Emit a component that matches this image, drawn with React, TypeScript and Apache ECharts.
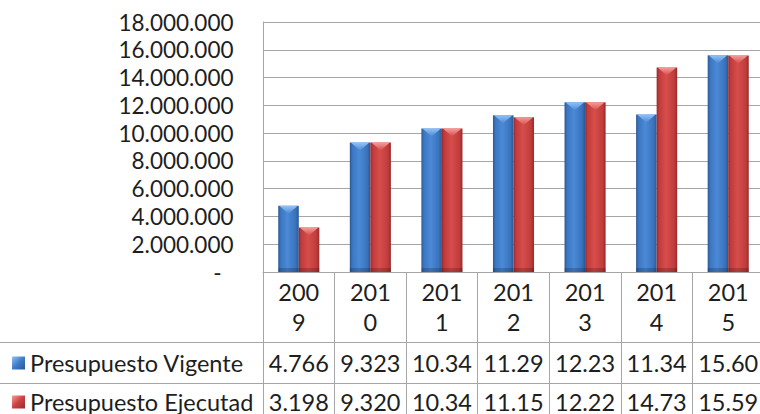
import React, { useEffect, useRef } from "react";
import * as echarts from "echarts";

const categories = ["2009", "2010", "2011", "2012", "2013", "2014", "2015"];
const vigente = [4766000, 9323000, 10340000, 11290000, 12230000, 11340000, 15600000];
const ejecutado = [3198000, 9320000, 10340000, 11150000, 12220000, 14730000, 15590000];
const seriesNames = ["Presupuesto Vigente", "Presupuesto Ejecutad"];
const yMin = 0;
const yMax = 18000000;
const yInterval = 2000000;

const FONT = "Lato";
const TEXT = "#1e1e1e";
const LINE = "#a6a6a6";
const TABLE_FS = 23.5;

const fmt = (v: number) =>
  Math.round(v)
    .toString()
    .replace(/\B(?=(\d{3})+(?!\d))/g, ".");
const cell = (v: number) => fmt(v).slice(0, 5);

const palettes = [
  {
    edge: "#2a5895",
    body1: "#3b76c2",
    body2: "#4b8ad6",
    body3: "#3a72bc",
    top: "#93c3f4",
    legend: "#3f7cc8",
  },
  {
    edge: "#992a2a",
    body1: "#c13b3b",
    body2: "#d64d4b",
    body3: "#c03d3c",
    top: "#f59d99",
    legend: "#cc4242",
  },
];

function makeRender(sIdx: number) {
  const p = palettes[sIdx];
  return (params: any, api: any) => {
    const idx = api.value(0);
    const val = api.value(1);
    const top = api.coord([idx, val]);
    const base = api.coord([idx, 0]);
    const band = api.size([1, 0])[0];
    const bw = band * 0.287;
    const x0 = sIdx === 0 ? top[0] - bw : top[0];
    const y = top[1];
    const h = base[1] - top[1];
    const tri = Math.min(8, h);
    return {
      type: "group",
      children: [
        {
          type: "rect",
          shape: { x: x0, y, width: bw, height: h },
          style: {
            fill: new echarts.graphic.LinearGradient(0, 0, 1, 0, [
              { offset: 0, color: p.edge },
              { offset: 0.12, color: p.body1 },
              { offset: 0.45, color: p.body2 },
              { offset: 0.85, color: p.body3 },
              { offset: 1, color: p.edge },
            ]),
          },
        },
        {
          type: "polygon",
          shape: {
            points: [
              [x0 + 1, y],
              [x0 + bw - 1, y],
              [x0 + bw / 2, y + tri],
            ],
          },
          style: {
            fill: new echarts.graphic.LinearGradient(0, 0, 0, 1, [
              { offset: 0, color: p.top },
              { offset: 1, color: p.body2 },
            ]),
          },
        },
        {
          type: "rect",
          shape: { x: x0, y: y + h - 4, width: bw, height: 4 },
          style: { fill: "rgba(0,0,0,0.18)" },
        },
      ],
    };
  };
}

export default function App() {
  const ref = useRef<HTMLDivElement>(null);
  useEffect(() => {
    document.body.style.margin = "0";
    if (!ref.current) return;
    const chart = echarts.init(ref.current, undefined, { renderer: "svg" });
    const rowAxis = (labels: string[], offset: number, lh: number) => ({
      type: "category",
      data: categories,
      gridIndex: 0,
      position: "bottom",
      offset,
      axisLine: { show: true, lineStyle: { color: LINE, width: 1 } },
      axisTick: {
        show: true,
        length: 41,
        interval: 0,
        alignWithLabel: false,
        lineStyle: { color: LINE, width: 1 },
      },
      axisLabel: {
        interval: 0,
        margin: 0,
        fontFamily: FONT,
        fontSize: TABLE_FS,
        lineHeight: lh,
        color: TEXT,
        formatter: (_v: string, i: number) => labels[i],
      },
      splitLine: { show: false },
    });
    const legendRow = (i: number, top: number, lh: number) => ({
      orient: "horizontal",
      left: 12,
      top,
      itemWidth: 13,
      itemHeight: 13,
      icon: "rect",
      selectedMode: false,
      padding: 0,
      textStyle: { fontFamily: FONT, fontSize: TABLE_FS, color: TEXT, lineHeight: lh },
      data: [
        {
          name: seriesNames[i],
          itemStyle: {
            color: new echarts.graphic.LinearGradient(0, 0, 1, 1, [
              { offset: 0, color: palettes[i].top },
              { offset: 0.5, color: palettes[i].legend },
              { offset: 1, color: palettes[i].edge },
            ]),
          },
        },
      ],
    });
    chart.setOption({
      animation: false,
      backgroundColor: "#ffffff",
      textStyle: { fontFamily: FONT },
      grid: {
        left: 263,
        right: -4,
        top: 22,
        bottom: 142,
        containLabel: false,
        outerBoundsMode: "none",
      },
      legend: [legendRow(0, 342.5, 41), legendRow(1, 383.5, 37)],
      xAxis: [
        {
          type: "category",
          data: categories,
          position: "bottom",
          axisLine: { show: true, lineStyle: { color: LINE, width: 1 } },
          axisTick: {
            show: true,
            length: 70.5,
            interval: 0,
            alignWithLabel: false,
            lineStyle: { color: LINE, width: 1 },
          },
          axisLabel: {
            interval: 0,
            margin: 4.5,
            fontFamily: FONT,
            fontSize: TABLE_FS,
            lineHeight: 30,
            color: TEXT,
            formatter: (v: string) => v.slice(0, 3) + "\n" + v.slice(3),
          },
          splitLine: { show: false },
        },
        rowAxis(vigente.map(cell), 70.5, 41),
        rowAxis(ejecutado.map(cell), 111.5, 37),
      ],
      yAxis: {
        type: "value",
        min: yMin,
        max: yMax,
        interval: yInterval,
        axisLine: { show: true, lineStyle: { color: LINE, width: 1 } },
        axisTick: { show: false },
        splitLine: { show: true, lineStyle: { color: LINE, width: 1 } },
        axisLabel: {
          margin: 29.5,
          fontFamily: FONT,
          fontSize: 22.5,
          color: TEXT,
          formatter: (v: number) => (v === 0 ? "{z|-}" : fmt(v)),
          rich: {
            z: { fontFamily: FONT, fontSize: 22.5, color: TEXT, padding: [0, 12, 0, 0] },
          },
        },
      },
      graphic: [
        {
          type: "line",
          shape: { x1: 0, y1: 342.5, x2: 263, y2: 342.5 },
          style: { stroke: LINE, lineWidth: 1 },
        },
        {
          type: "line",
          shape: { x1: 0, y1: 383.5, x2: 263, y2: 383.5 },
          style: { stroke: LINE, lineWidth: 1 },
        },
      ],
      series: [vigente, ejecutado].map((vals, sIdx) => ({
        type: "custom",
        name: seriesNames[sIdx],
        xAxisIndex: 0,
        yAxisIndex: 0,
        itemStyle: { color: palettes[sIdx].legend },
        renderItem: makeRender(sIdx),
        encode: { x: 0, y: 1 },
        data: vals.map((v, i) => [i, v]),
      })),
    });
    return () => chart.dispose();
  }, []);
  return (
    <div
      ref={ref}
      style={{ position: "absolute", left: 0, top: 0, width: 760, height: 414 }}
    />
  );
}
